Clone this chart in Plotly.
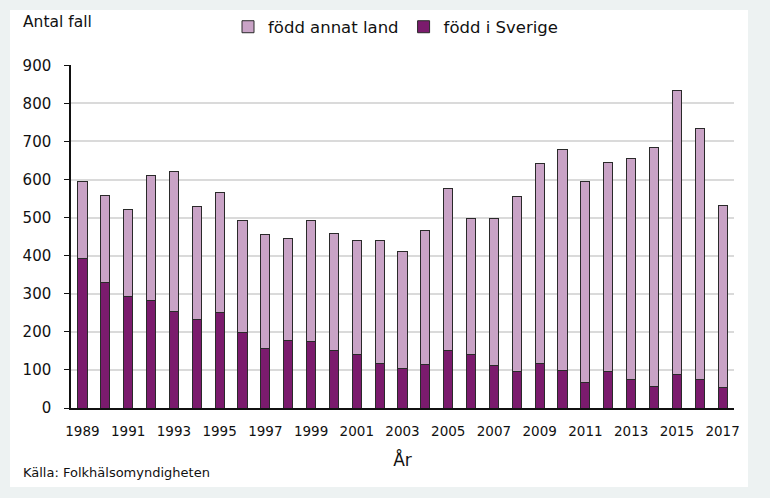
import plotly.graph_objects as go

years = list(range(1989, 2018))
total = [595, 558, 521, 610, 620, 530, 565, 493, 456, 446, 493, 458, 441, 439, 410,
         465, 576, 498, 498, 555, 643, 678, 595, 645, 656, 684, 835, 735, 533]
sverige = [393, 330, 293, 281, 253, 232, 250, 198, 157, 178, 174, 152, 141, 116, 105,
           113, 152, 140, 111, 95, 118, 98, 66, 95, 75, 57, 87, 75, 54]
annat = [t - s for t, s in zip(total, sverige)]

FONT = "DejaVu Sans"
DARK = "#7b1b6d"
LIGHT = "#c9a3c6"
EDGE = "#2a2a2a"
OUTER = "#edf2f2"

L, R, T, B = 71, 36, 61, 90
PW, PH = 770 - L - R, 498 - T - B

fig = go.Figure()
fig.add_trace(go.Bar(x=years, y=sverige, name="född i Sverige",
                     marker=dict(color=DARK, line=dict(color=EDGE, width=1)), width=0.4))
fig.add_trace(go.Bar(x=years, y=annat, name="född annat land",
                     marker=dict(color=LIGHT, line=dict(color=EDGE, width=1)), width=0.4))

fig.update_layout(
    width=770, height=498,
    barmode="stack",
    paper_bgcolor=OUTER,
    plot_bgcolor="white",
    margin=dict(l=L, r=R, t=T, b=B),
    font=dict(family=FONT, size=14, color="#111"),
    showlegend=True,
    legend=dict(orientation="h", traceorder="reversed", x=228 / 770, xref="container",
                y=1 - 27 / 498, yref="container", xanchor="left", yanchor="middle",
                font=dict(size=16.5, family=FONT), bgcolor="rgba(0,0,0,0)",
                itemwidth=30),
    xaxis=dict(range=[1988.5, 2017.5], tickmode="linear", tick0=1989, dtick=2,
               showgrid=False, showline=True, linecolor="#111", linewidth=1.5,
               ticks="", ticklabelstandoff=10, tickfont=dict(size=13.5),
               title=dict(text="År", font=dict(size=17), standoff=16)),
    yaxis=dict(range=[0, 900], dtick=100, showgrid=True, gridcolor="#dadada",
               gridwidth=1.5, showline=True, linecolor="#111", linewidth=1.5,
               ticks="outside", ticklen=5, tickcolor="#111", zeroline=False,
               ticklabelstandoff=10, tickfont=dict(size=15)),
    shapes=[dict(type="rect", xref="paper", yref="paper",
                 x0=(10 - L) / PW, x1=(748 - L) / PW,
                 y0=-(488 - (T + PH)) / PH, y1=1 + (T - 5) / PH,
                 fillcolor="white", line=dict(width=0), layer="below")],
    annotations=[
        dict(text="Antal fall", xref="paper", yref="paper",
             x=(21 - L) / PW, y=1 + (T - 17) / PH, xanchor="left", yanchor="middle",
             showarrow=False, font=dict(size=15.5)),
        dict(text="Källa: Folkhälsomyndigheten", xref="paper", yref="paper",
             x=(21 - L) / PW, y=-(473 - (T + PH)) / PH, xanchor="left", yanchor="middle",
             showarrow=False, font=dict(size=13)),
    ],
)

fig.write_html(
    "out.html",
    config={"displayModeBar": False},
    post_script="document.body.style.margin='0';document.body.style.padding='0';"
                "document.body.style.background='" + OUTER + "';",
)
